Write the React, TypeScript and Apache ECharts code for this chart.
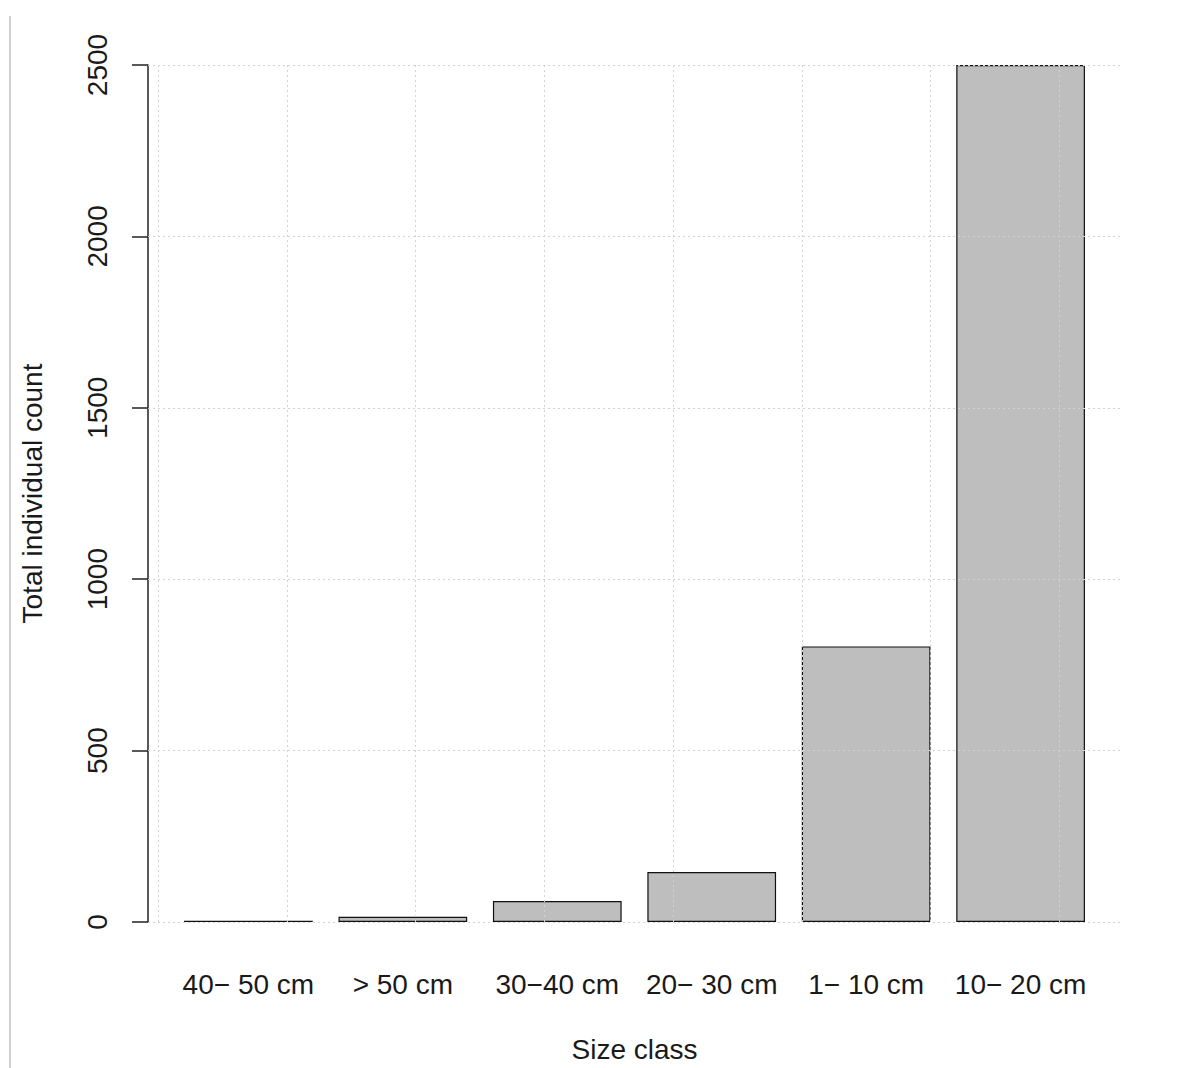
import React, { useEffect, useRef } from "react";
import * as echarts from "echarts";

const categories = ["40− 50 cm", "> 50 cm", "30−40 cm", "20− 30 cm", "1− 10 cm", "10− 20 cm"];
const counts = [4, 15, 61, 146, 804, 2500];
const yTicks = [0, 500, 1000, 1500, 2000, 2500];
const gridXs = [0, 1, 2, 3, 4, 5, 6, 7];

// R barplot geometry: width 1, space 0.2
const barCenter = (i: number) => 0.7 + 1.2 * i;

export default function App() {
  const ref = useRef<HTMLDivElement>(null);
  useEffect(() => {
    if (!ref.current) return;
    const chart = echarts.init(ref.current, null, { renderer: "svg" });
    const font = "Liberation Sans, Arial, sans-serif";
    const gridStyle = { color: "#d3d3d3", type: [2, 3] as any, width: 1 };
    chart.setOption({
      animation: false,
      backgroundColor: "#ffffff",
      textStyle: { fontFamily: font },
      grid: { left: 148, right: 58, top: 65, bottom: 142, containLabel: false },
      xAxis: {
        type: "value",
        min: -0.08,
        max: 7.48,
        name: "Size class",
        nameLocation: "middle",
        nameGap: 113,
        nameTextStyle: { fontSize: 28, color: "#1a1a1a", fontFamily: font },
        axisLine: { show: false },
        axisTick: { show: false },
        splitLine: { show: false },
        axisLabel: {
          customValues: categories.map((_, i) => barCenter(i)),
          formatter: (v: number) => categories[Math.round((v - 0.7) / 1.2)] ?? "",
          fontSize: 28,
          color: "#1a1a1a",
          margin: 48,
          fontFamily: font,
        },
      },
      yAxis: {
        type: "value",
        min: 0,
        max: 2500,
        interval: 500,
        name: "Total individual count",
        nameLocation: "middle",
        nameRotate: 90,
        nameGap: 102,
        nameTextStyle: { fontSize: 28, color: "#1a1a1a", fontFamily: font },
        axisLine: { show: true, onZero: false, lineStyle: { color: "#222", width: 1.5 } },
        axisTick: { show: true, length: 16, lineStyle: { color: "#222", width: 1.5 } },
        splitLine: { show: false },
        axisLabel: {
          rotate: 90,
          fontSize: 28,
          color: "#1a1a1a",
          margin: 37,
          fontFamily: font,
          formatter: (v: number) => (yTicks.includes(v) ? String(v) : ""),
        },
      },
      graphic: [
        {
          type: "line",
          shape: { x1: 10, y1: 16, x2: 10, y2: 1068 },
          style: { stroke: "#d0d0d0", lineWidth: 2 },
        },
      ],
      series: [
        {
          type: "bar",
          barWidth: 128.7,
          data: counts.map((c, i) => [barCenter(i), c]),
          itemStyle: { color: "#bebebe", borderColor: "#111", borderWidth: 1.2 },
          markLine: {
            silent: true,
            symbol: "none",
            label: { show: false },
            lineStyle: gridStyle,
            z: 10,
            data: [
              ...gridXs.map((x) => ({ xAxis: x })),
              ...yTicks.map((y) => ({ yAxis: y })),
            ],
          },
        },
      ],
    });
    return () => chart.dispose();
  }, []);
  return (
    <div
      ref={ref}
      style={{ position: "absolute", left: 0, top: 0, width: 1179, height: 1068 }}
    />
  );
}
